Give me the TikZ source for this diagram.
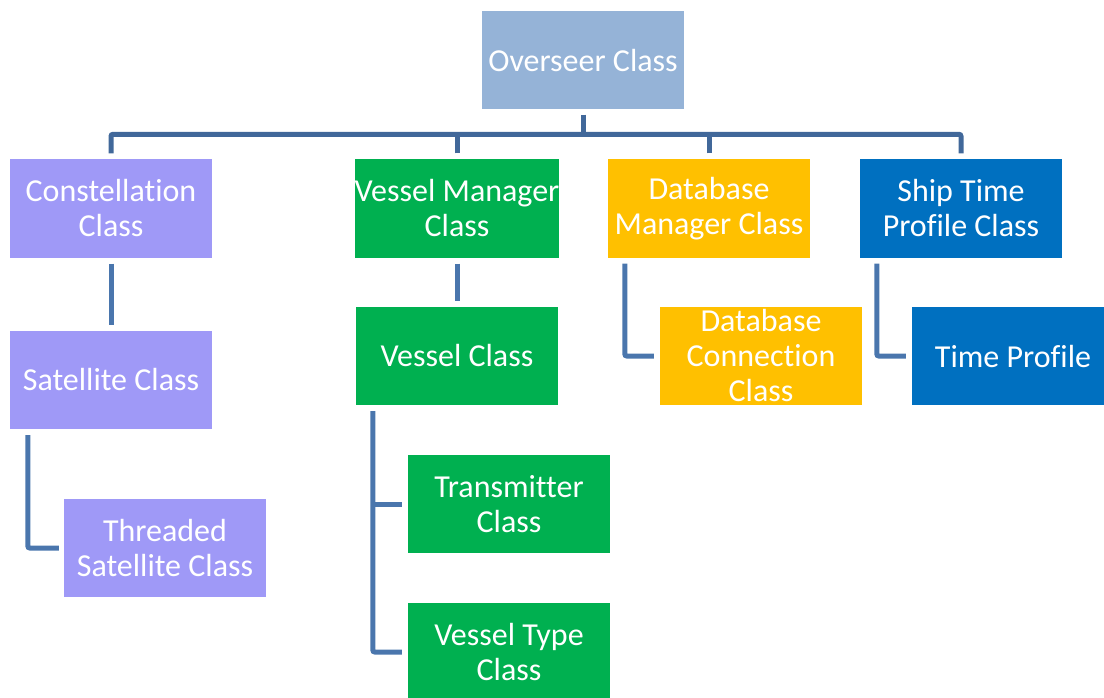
\documentclass[tikz,border=0pt]{standalone}
\usepackage{fontspec}
\setmainfont[Ligatures=NoCommon]{Carlito}
\definecolor{ovc}{HTML}{95B3D7}
\definecolor{lav}{HTML}{9F99F7}
\definecolor{grn}{HTML}{00B050}
\definecolor{gld}{HTML}{FFC000}
\definecolor{blu}{HTML}{0070C0}
\definecolor{bus}{HTML}{41689A}
\definecolor{lnk}{HTML}{4A76AD}
\tikzset{
  box/.style={minimum width=202pt, minimum height=98pt, inner sep=0pt, align=center,
    text=white, font=\fontsize{32}{35}\selectfont},
  busline/.style={draw=bus, line width=5pt, rounded corners=2pt},
  link/.style={draw=lnk, line width=5pt, rounded corners=2pt}
}
\begin{document}
\begin{tikzpicture}[x=1pt,y=-1pt]
\useasboundingbox (0,0) rectangle (1104,698);
\begin{scope}
\clip (0,0) rectangle (1104,698);
\node[box, fill=ovc] (ov) at (583,60.5) {Overseer Class};
\node[box, fill=lav] (con) at (111,208.5) {Constellation\\Class};
\node[box, fill=grn] (vm) at (457,208.5) {Vessel Manager\\Class};
\node[box, fill=gld] (dm) at (709,208.5) {Database\\Manager Class};
\node[box, fill=blu] (stp) at (961,208.5) {Ship Time\\Profile Class};
\node[box, fill=lav] (sat) at (111,380) {Satellite Class};
\node[box, fill=grn] (vc) at (457,356) {Vessel Class};
\node[box, fill=gld] (dbc) at (761,356) {Database\\Connection\\Class};
\node[box, fill=blu] (tp) at (1013,356) {Time Profile};
\node[box, fill=lav] (thr) at (165,548) {Threaded\\Satellite Class};
\node[box, fill=grn] (tx) at (509,504) {Transmitter\\Class};
\node[box, fill=grn] (vt) at (509,652) {Vessel Type\\Class};
\end{scope}
% bus
\coordinate (bl) at ([yshift=25pt]con.north);
\draw[busline] ([yshift=6pt]con.north) -- (bl) -- ([yshift=25pt]stp.north) -- ([yshift=6pt]stp.north);
\draw[busline] ([yshift=-5pt]ov.south) -- (ov.south |- bl);
\draw[busline] ([yshift=6pt]vm.north) -- (vm.north |- bl);
\draw[busline] ([yshift=6pt]dm.north) -- (dm.north |- bl);
% children
\draw[link] ([yshift=-6pt]con.south) -- ([yshift=6pt]sat.north);
\draw[link] ([yshift=-6pt]vm.south) -- ([yshift=6pt]vc.north);
\draw[link] ([xshift=18pt,yshift=-6pt]sat.south west) |- ([xshift=-5pt]thr.west);
\coordinate (vcl) at ([xshift=17pt,yshift=-6pt]vc.south west);
\draw[link] (vcl) |- ([xshift=-6pt]vt.west);
\draw[link] (vcl |- tx.west) -- ([xshift=-6pt]tx.west);
\draw[link] ([xshift=17pt,yshift=-6pt]dm.south west) |- ([xshift=-6pt]dbc.west);
\draw[link] ([xshift=17pt,yshift=-6pt]stp.south west) |- ([xshift=-6pt]tp.west);
\end{tikzpicture}
\end{document}
